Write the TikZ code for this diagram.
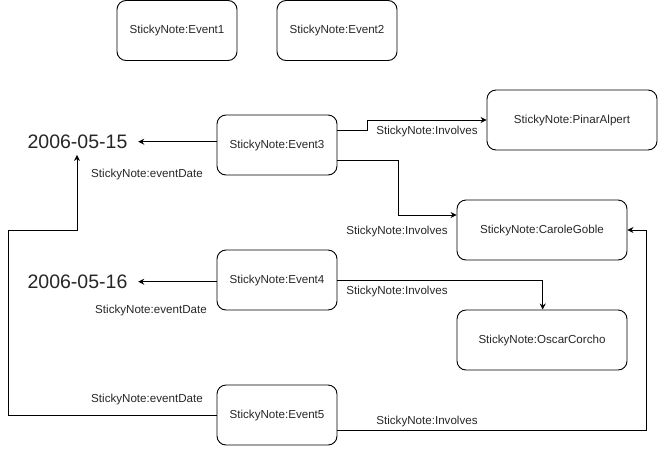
\documentclass[tikz,border=0pt]{standalone}
\usepackage{fontspec}
\setmainfont{Liberation Sans}
\usetikzlibrary{arrows.meta}
\begin{document}
\begin{tikzpicture}[x=1pt,y=-1pt,
  note/.style={draw, line width=0.9pt, rounded corners=9pt, minimum height=60pt, inner sep=0pt, font=\fontsize{11.6}{13}\selectfont, text=black!85},
  ev/.style={note, minimum width=120pt},
  per/.style={note, minimum width=170pt},
  datetext/.style={inner sep=0pt, font=\fontsize{19.5}{22}\selectfont, text=black!85},
  lbl/.style={inner sep=0pt, font=\fontsize{11.6}{13}\selectfont, text=black!85},
  link/.style={draw, line width=0.9pt, -{Stealth[length=6pt,width=6pt]}}]
\useasboundingbox (0,0) rectangle (658,453);
% nodes
\node[ev] (e1) at (177,30.5) {StickyNote:Event1};
\node[ev] (e2) at (337,30.5) {StickyNote:Event2};
\node[ev] (e3) at (277,145) {StickyNote:Event3};
\node[ev] (e4) at (277,280) {StickyNote:Event4};
\node[ev] (e5) at (277,415) {StickyNote:Event5};
\node[per] (pa) at (572,120) {StickyNote:PinarAlpert};
\node[per] (cg) at (542,230) {StickyNote:CaroleGoble};
\node[per] (oc) at (542,340) {StickyNote:OscarCorcho};
\node[datetext, minimum width=101pt, minimum height=22pt] (d1) at (77.5,141.7) {2006-05-15};
\node[datetext, minimum width=101pt, minimum height=22pt] (d2) at (77.5,281.7) {2006-05-16};
% helper coordinates
\coordinate (a1) at (367,130.5);
\coordinate (b1) at (398,160);
\coordinate (c1) at (542.7,280.7);
\coordinate (f1) at (8,415);
\coordinate (f2) at (77,230);
\coordinate (g1) at (646.7,430);
% connectors
\draw[link] (d1.east -| e3.west) -- ([xshift=10pt]d1.east);
\draw[link] (d2.east -| e4.west) -- ([xshift=10pt]d2.east);
\draw[link] (e3.east |- a1) -- (a1) |- (pa.west |- 0,120);
\draw[link] (e3.east |- b1) -- (b1) |- (cg.west |- 0,215);
\draw[link] (e4.east |- c1) -- (c1) -- (oc.north -| c1);
\draw[link] (e5.west) -- (f1) |- (f2) -- ([yshift=-2pt]d1.south -| f2);
\draw[link] (e5.east |- g1) -- (g1) |- (cg.east);
% labels
\node[lbl] (l1) at (147,174) {StickyNote:eventDate};
\node[lbl] (l2) at (151,310) {StickyNote:eventDate};
\node[lbl] (l3) at (147,399) {StickyNote:eventDate};
\node[lbl] (l4) at (427,131.5) {StickyNote:Involves};
\node[lbl] (l5) at (397,231) {StickyNote:Involves};
\node[lbl] (l6) at (397,291.5) {StickyNote:Involves};
\node[lbl] (l7) at (427,421.5) {StickyNote:Involves};
\end{tikzpicture}
\end{document}
